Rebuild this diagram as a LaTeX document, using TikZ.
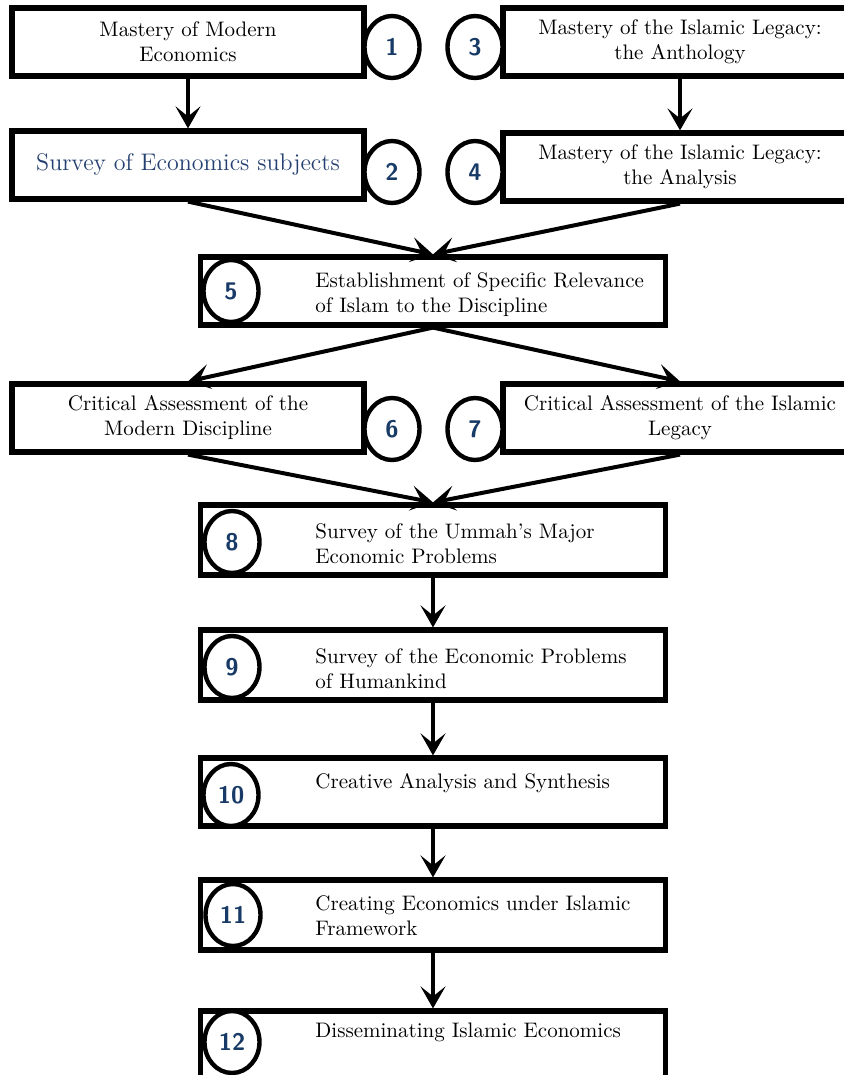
\documentclass[tikz,border=0pt]{standalone}
\usepackage{xcolor}
\usepackage{tikz}
\usetikzlibrary{arrows.meta,positioning,shapes.geometric}

\definecolor{numblue}{RGB}{24,58,102}
\definecolor{titleblue}{RGB}{36,64,112}

\begin{document}
\begin{tikzpicture}[x=0.5pt, y=-0.5pt,
    stepbox/.style={draw, line width=2.6pt, minimum width=176pt, minimum height=34pt,
        inner sep=0pt, align=center, font=\fontsize{10.5}{12.5}\selectfont},
    widebox/.style={stepbox, minimum width=232.5pt},
    numcirc/.style={draw, ellipse, line width=2.2pt, fill=white, minimum width=27.5pt,
        minimum height=31pt, inner sep=0pt, font=\sffamily\bfseries\large, text=numblue},
    steptext/.style={anchor=west, align=left, inner sep=0pt, font=\fontsize{10.5}{12.5}\selectfont},
    arr/.style={-{Stealth[length=11pt, width=12.5pt, inset=5pt]}, line width=2pt}]
    \useasboundingbox (0,0) rectangle (844,1075);

    % Boxes
    \node[stepbox] (b1) at (188, 42) {Mastery of Modern\\Economics};
    \node[stepbox, minimum width=177pt] (b3) at (680, 42) {Mastery of the Islamic Legacy:\\the Anthology};
    \node[stepbox, font=\fontsize{12}{14}\selectfont, text=titleblue] (b2) at (188, 165) {Survey of Economics subjects};
    \node[stepbox, minimum width=177pt] (b4) at (680, 167) {Mastery of the Islamic Legacy:\\the Analysis};
    \node[widebox] (b5) at (433, 291) {};
    \node[stepbox] (b6) at (188, 418) {Critical Assessment of the\\Modern Discipline};
    \node[stepbox, minimum width=177pt] (b7) at (680, 418) {Critical Assessment of the Islamic\\Legacy};
    \node[widebox, minimum height=35pt] (b8) at (433, 540) {};
    \node[widebox, minimum height=35pt] (b9) at (433, 665) {};
    \node[widebox] (b10) at (433, 792) {};
    \node[widebox, minimum height=35pt] (b11) at (433, 915) {};
    \node[widebox, minimum height=35pt] (b12) at (433, 1046) {};

    % Texts of the middle column
    \node[steptext] (t5) at (315, 295) {Establishment of Specific Relevance\\of Islam to the Discipline};
    \node[steptext] (t8) at (315, 544) {Survey of the Ummah's Major\\Economic Problems};
    \node[steptext] (t9) at (315, 669) {Survey of the Economic Problems\\of Humankind};
    \node[steptext] (t10) at (315, 783) {Creative Analysis and Synthesis};
    \node[steptext] (t11) at (315, 916) {Creating Economics under Islamic\\Framework};
    \node[steptext] (t12) at (315, 1032) {Disseminating Islamic Economics};

    % Numbers
    \node[numcirc] (c1) at (392, 47) {1};
    \node[numcirc] (c3) at (475, 47) {3};
    \node[numcirc] (c2) at (392, 172) {2};
    \node[numcirc] (c4) at (475, 172) {4};
    \node[numcirc] (c5) at (231, 291) {5};
    \node[numcirc] (c6) at (392, 429) {6};
    \node[numcirc] (c7) at (475, 429) {7};
    \node[numcirc] (c8) at (232, 542) {8};
    \node[numcirc] (c9) at (232, 667) {9};
    \node[numcirc] (c10) at (231, 795) {10};
    \node[numcirc] (c11) at (233, 915) {11};
    \node[numcirc] (c12) at (232, 1042) {12};

    % Arrows
    \draw[arr] (b1.south) -- (b2.north);
    \draw[arr] (b3.south) -- (b4.north);
    \draw[arr] (b2.south) -- (b5.north);
    \draw[arr] (b4.south) -- (b5.north);
    \draw[arr] (b5.south) -- (b6.north);
    \draw[arr] (b5.south) -- (b7.north);
    \draw[arr] (b6.south) -- (b8.north);
    \draw[arr] (b7.south) -- (b8.north);
    \draw[arr] (b8.south) -- (b9.north);
    \draw[arr] (b9.south) -- (b10.north);
    \draw[arr] (b10.south) -- (b11.north);
    \draw[arr] (b11.south) -- (b12.north);
\end{tikzpicture}
\end{document}
